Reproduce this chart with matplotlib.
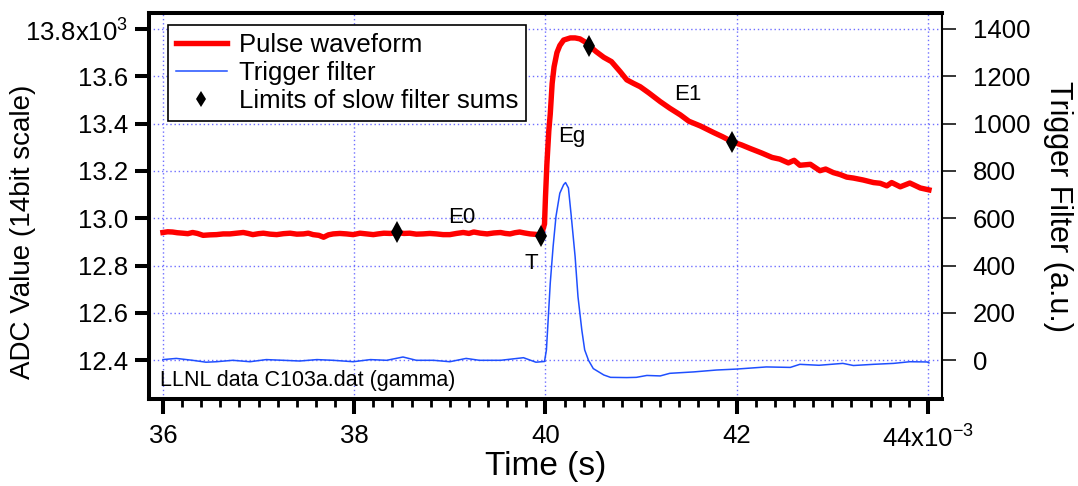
import numpy as np
import matplotlib
matplotlib.use("Agg")
import matplotlib.pyplot as plt
from matplotlib.ticker import MultipleLocator, FixedLocator, FixedFormatter

plt.rcParams['font.family'] = ['Liberation Sans', 'DejaVu Sans']
plt.rcParams['mathtext.fontset'] = 'custom'
plt.rcParams['mathtext.rm'] = 'Liberation Sans'

# pulse waveform (time in ms, ADC value in units of 10^3)
t_pulse = [36.00, 36.05, 36.10, 36.15, 36.21, 36.26, 36.31, 36.36, 36.42, 36.49,
           36.56, 36.63, 36.70, 36.77, 36.84, 36.89, 36.94, 37.00, 37.05, 37.12,
           37.19, 37.26, 37.33, 37.40, 37.47, 37.52, 37.57, 37.63, 37.68, 37.73,
           37.78, 37.85, 37.92, 37.99, 38.06, 38.13, 38.20, 38.25, 38.31, 38.38,
           38.45, 38.52, 38.58, 38.65, 38.72, 38.79, 38.86, 38.93, 39.00, 39.07,
           39.14, 39.20, 39.25, 39.32, 39.39, 39.46, 39.53, 39.58, 39.63, 39.68,
           39.73, 39.78, 39.84, 39.90, 39.955, 39.99, 40.00, 40.015, 40.035, 40.05,
           40.07, 40.09, 40.12, 40.15, 40.19, 40.26, 40.31, 40.36, 40.41, 40.46,
           40.53, 40.61, 40.69, 40.78, 40.85, 40.92, 40.99, 41.08, 41.20, 41.30,
           41.41, 41.50, 41.62, 41.76, 41.85, 41.955, 42.05, 42.14, 42.26, 42.37,
           42.45, 42.54, 42.60, 42.66, 42.77, 42.87, 42.93, 43.01, 43.08, 43.15,
           43.22, 43.32, 43.43, 43.50, 43.57, 43.62, 43.71, 43.81, 43.92, 44.01]
adc_pulse = [12.940, 12.943, 12.942, 12.939, 12.937, 12.935, 12.940, 12.936, 12.928, 12.930,
             12.931, 12.934, 12.934, 12.937, 12.940, 12.936, 12.931, 12.935, 12.937, 12.933,
             12.931, 12.935, 12.937, 12.933, 12.934, 12.937, 12.931, 12.928, 12.920, 12.930,
             12.934, 12.936, 12.934, 12.931, 12.937, 12.934, 12.931, 12.934, 12.937, 12.936,
             12.940, 12.936, 12.937, 12.933, 12.934, 12.936, 12.934, 12.931, 12.931, 12.936,
             12.940, 12.936, 12.942, 12.937, 12.934, 12.938, 12.940, 12.936, 12.934, 12.939,
             12.942, 12.938, 12.934, 12.932, 12.927, 12.976, 13.089, 13.230, 13.370, 13.440,
             13.570, 13.640, 13.700, 13.730, 13.753, 13.762, 13.762, 13.758, 13.746, 13.728,
             13.704, 13.680, 13.662, 13.620, 13.585, 13.570, 13.556, 13.530, 13.493, 13.465,
             13.437, 13.410, 13.390, 13.362, 13.345, 13.323, 13.310, 13.295, 13.276, 13.257,
             13.250, 13.234, 13.245, 13.224, 13.228, 13.201, 13.208, 13.193, 13.185, 13.174,
             13.170, 13.162, 13.151, 13.148, 13.137, 13.151, 13.133, 13.149, 13.128, 13.120]

# trigger filter (a.u.)
t_trig = [36.00, 36.14, 36.31, 36.45, 36.56, 36.73, 36.91, 37.08, 37.26, 37.43,
          37.61, 37.78, 37.99, 38.17, 38.34, 38.51, 38.65, 38.83, 39.00, 39.17,
          39.31, 39.53, 39.77, 39.90, 39.99, 40.01, 40.03, 40.05, 40.08, 40.11,
          40.15, 40.19, 40.21, 40.24, 40.27, 40.31, 40.34, 40.38, 40.41, 40.45,
          40.50, 40.61, 40.68, 40.85, 40.95, 41.06, 41.20, 41.30, 41.55, 41.79,
          42.00, 42.31, 42.56, 42.66, 42.86, 43.11, 43.22, 43.43, 43.64, 43.81,
          43.99, 44.01]
trig = [3, 8, 0, -8, -6, 0, -6, 3, 0, -3,
        3, 0, -6, 3, 0, 14, 0, 0, -6, 8,
        0, 0, 11, -8, -5, 44, 184, 326, 481, 608,
        706, 742, 751, 728, 608, 438, 269, 128, 44, 0,
        -35, -62, -72, -73, -72, -64, -66, -55, -49, -41,
        -37, -28, -30, -17, -21, -13, -22, -17, -13, -6,
        -7, -11]

# limits of slow filter sums
t_limits = [38.45, 39.955, 40.46, 41.955]
adc_limits = [12.940, 12.927, 13.728, 13.323]

region_labels = ["E0", "T", "Eg", "E1"]
region_x = [39.12, 39.85, 40.28, 41.49]
region_y = [13.005, 12.81, 13.345, 13.521]

x_ticks = [36, 38, 40, 42, 44]
x_ticklabels = ["36", "38", "40", "42", "44x10$^{-3}$"]
y_ticks = [12.4, 12.6, 12.8, 13.0, 13.2, 13.4, 13.6, 13.8]
y_ticklabels = ["12.4", "12.6", "12.8", "13.0", "13.2", "13.4", "13.6", "13.8x10$^{3}$"]
trig_ticks = [0, 200, 400, 600, 800, 1000, 1200, 1400]

fig = plt.figure(figsize=(10.78, 4.86), dpi=100)
ax = fig.add_axes([0.1382, 0.179, 0.7356, 0.7936])
ax2 = ax.twinx()

line_pulse, = ax.plot(t_pulse, adc_pulse, color='#ff0000', lw=3.9,
                      solid_joinstyle='round', label='Pulse waveform', zorder=3)
line_lim, = ax.plot(t_limits, adc_limits, ls='none', marker='d', ms=11,
                    color='black', mec='black', mew=0, label='Limits of slow filter sums', zorder=4)
line_trig, = ax2.plot(t_trig, trig, color='#1f4fff', lw=1.1, label='Trigger filter')

ax.set_xlim(35.854, 44.146)
ax.set_ylim(12.2365, 13.866)
ax2.set_ylim(-163.5, 1466)

ax.xaxis.set_major_locator(FixedLocator(x_ticks))
ax.xaxis.set_major_formatter(FixedFormatter(x_ticklabels))
ax.xaxis.set_minor_locator(MultipleLocator(0.2))
ax.yaxis.set_major_locator(FixedLocator(y_ticks))
ax.yaxis.set_major_formatter(FixedFormatter(y_ticklabels))
ax2.yaxis.set_major_locator(FixedLocator(trig_ticks))

ax.grid(True, which='major', color='#6f6fff', ls=(0, (1, 2)), lw=1.0)

ax.tick_params(axis='x', which='major', direction='out', length=11, width=2.9,
               labelsize=18.5, pad=7)
ax.tick_params(axis='x', which='minor', direction='out', length=5.5, width=2)
ax.tick_params(axis='y', which='major', direction='out', length=10, width=2.9,
               labelsize=18.5, pad=5)
ax2.tick_params(axis='y', which='major', direction='out', length=10, width=1.1,
                labelsize=18.5, pad=12)

for s in ['left', 'bottom', 'top']:
    ax.spines[s].set_linewidth(2.9)
ax.spines['right'].set_visible(False)
for s in ['left', 'bottom', 'top']:
    ax2.spines[s].set_visible(False)
ax2.spines['right'].set_linewidth(1.5)

ax.set_xlabel('Time (s)', fontsize=24, va='center')
ax.xaxis.set_label_coords(0.5, -0.174)
ax.set_ylabel('ADC Value (14bit scale)', fontsize=20, va='center')
ax.yaxis.set_label_coords(-0.159, 0.433)

# right-hand label placed as plain text so its centre sits where the reference has it
fig.text(1058 / 1078, 0.5 * (0.179 + 0.9726), 'Trigger Filter (a.u.)', fontsize=22,
         rotation=270, ha='center', va='center')

for lab, xx, yy in zip(region_labels, region_x, region_y):
    ax.text(xx, yy, lab, fontsize=16, ha='center', va='center', zorder=5)

ax.text(0.014, 0.049, 'LLNL data C103a.dat (gamma)', transform=ax.transAxes,
        fontsize=15.5, ha='left', va='center')

leg = ax2.legend([line_pulse, line_trig, line_lim],
                 ['Pulse waveform', 'Trigger filter', 'Limits of slow filter sums'],
                 loc='upper left', bbox_to_anchor=(0.024, 0.97), borderaxespad=0,
                 fontsize=18.5, labelspacing=0.17, handlelength=2.0, handletextpad=0.45,
                 borderpad=0.3, fancybox=False, framealpha=1, edgecolor='black')
leg.get_frame().set_linewidth(1.2)
leg.legend_handles[2].set_markersize(8)

fig.savefig('out.png', dpi=100)
